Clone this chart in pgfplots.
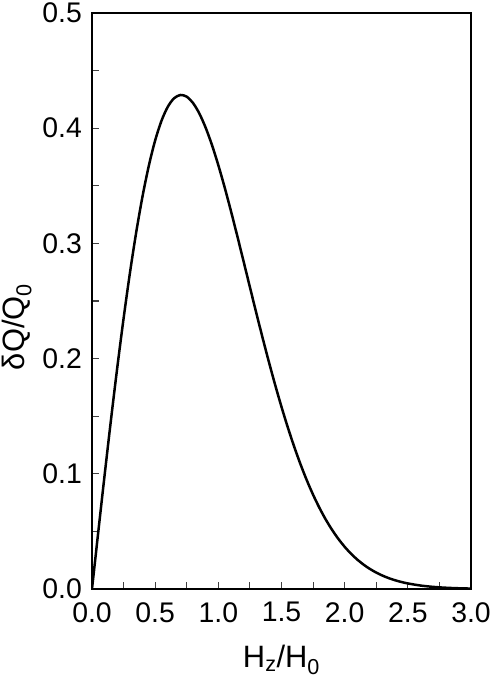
\documentclass[border=0pt]{standalone}
\usepackage{fontspec}
\setmainfont{Liberation Sans}
\usepackage{pgfplots}
\pgfplotsset{compat=1.18}

% x*exp(-x^2) shape
\pgfplotstableread{
x y
0.00 0.00000
0.05 0.04988
0.10 0.09900
0.15 0.14666
0.20 0.19216
0.25 0.23485
0.30 0.27418
0.35 0.30965
0.40 0.34086
0.45 0.36751
0.50 0.38940
0.55 0.40643
0.60 0.41861
0.65 0.42601
0.70 0.42884
0.75 0.42734
0.80 0.42183
0.85 0.41271
0.90 0.40037
0.95 0.38528
1.00 0.36788
1.05 0.34866
1.10 0.32802
1.15 0.30644
1.20 0.28431
1.25 0.26201
1.30 0.23988
1.35 0.21819
1.40 0.19720
1.45 0.17712
1.50 0.15810
1.55 0.14026
1.60 0.12369
1.65 0.10841
1.70 0.09448
1.75 0.08185
1.80 0.07050
1.85 0.06036
1.90 0.05140
1.95 0.04352
2.00 0.03663
2.05 0.03067
2.10 0.02553
2.15 0.02113
2.20 0.01740
2.25 0.01424
2.30 0.01160
2.35 0.00939
2.40 0.00756
2.45 0.00606
2.50 0.00483
2.60 0.00301
2.70 0.00184
2.80 0.00110
2.90 0.00065
3.00 0.00037
}\curve

\begin{document}
\begin{tikzpicture}
\path[use as bounding box] (-92bp,-92bp) rectangle (399bp,589bp);
\begin{axis}[
  scale only axis,
  width=379bp, height=576bp,
  xmin=0, xmax=3, ymin=0, ymax=0.5,
  xtick={0,0.5,...,3}, ytick={0,0.1,...,0.5},
  minor x tick num=1, minor y tick num=1,
  tick align=inside,
  xtick pos=bottom, ytick pos=left,
  major tick length=7bp, minor tick length=7bp,
  tick style={line width=1.1pt, color=black!75},
  axis line style={line width=1.8pt},
  /pgf/number format/assume math mode=true,
  /pgf/number format/.cd, fixed, fixed zerofill, precision=1,
  /pgfplots/.cd,
  ticklabel style={font=\fontsize{28.5}{32}\selectfont, inner sep=0pt},
  xticklabel style={anchor=north, yshift=-13bp},
  yticklabel style={anchor=east, xshift=-10bp},
  xlabel={H\textsubscript{z}/H\textsubscript{0}},
  ylabel={δQ/Q\textsubscript{0}},
  label style={font=\fontsize{31}{35}\selectfont, inner sep=0pt},
  xlabel style={at={(axis description cs:0.5,-0.137)}, anchor=base},
  ylabel style={at={(axis description cs:-0.177,0.455)}, anchor=base},
]
\addplot[black, line width=2.5pt, smooth] table {\curve};
\end{axis}
\end{tikzpicture}
\end{document}
